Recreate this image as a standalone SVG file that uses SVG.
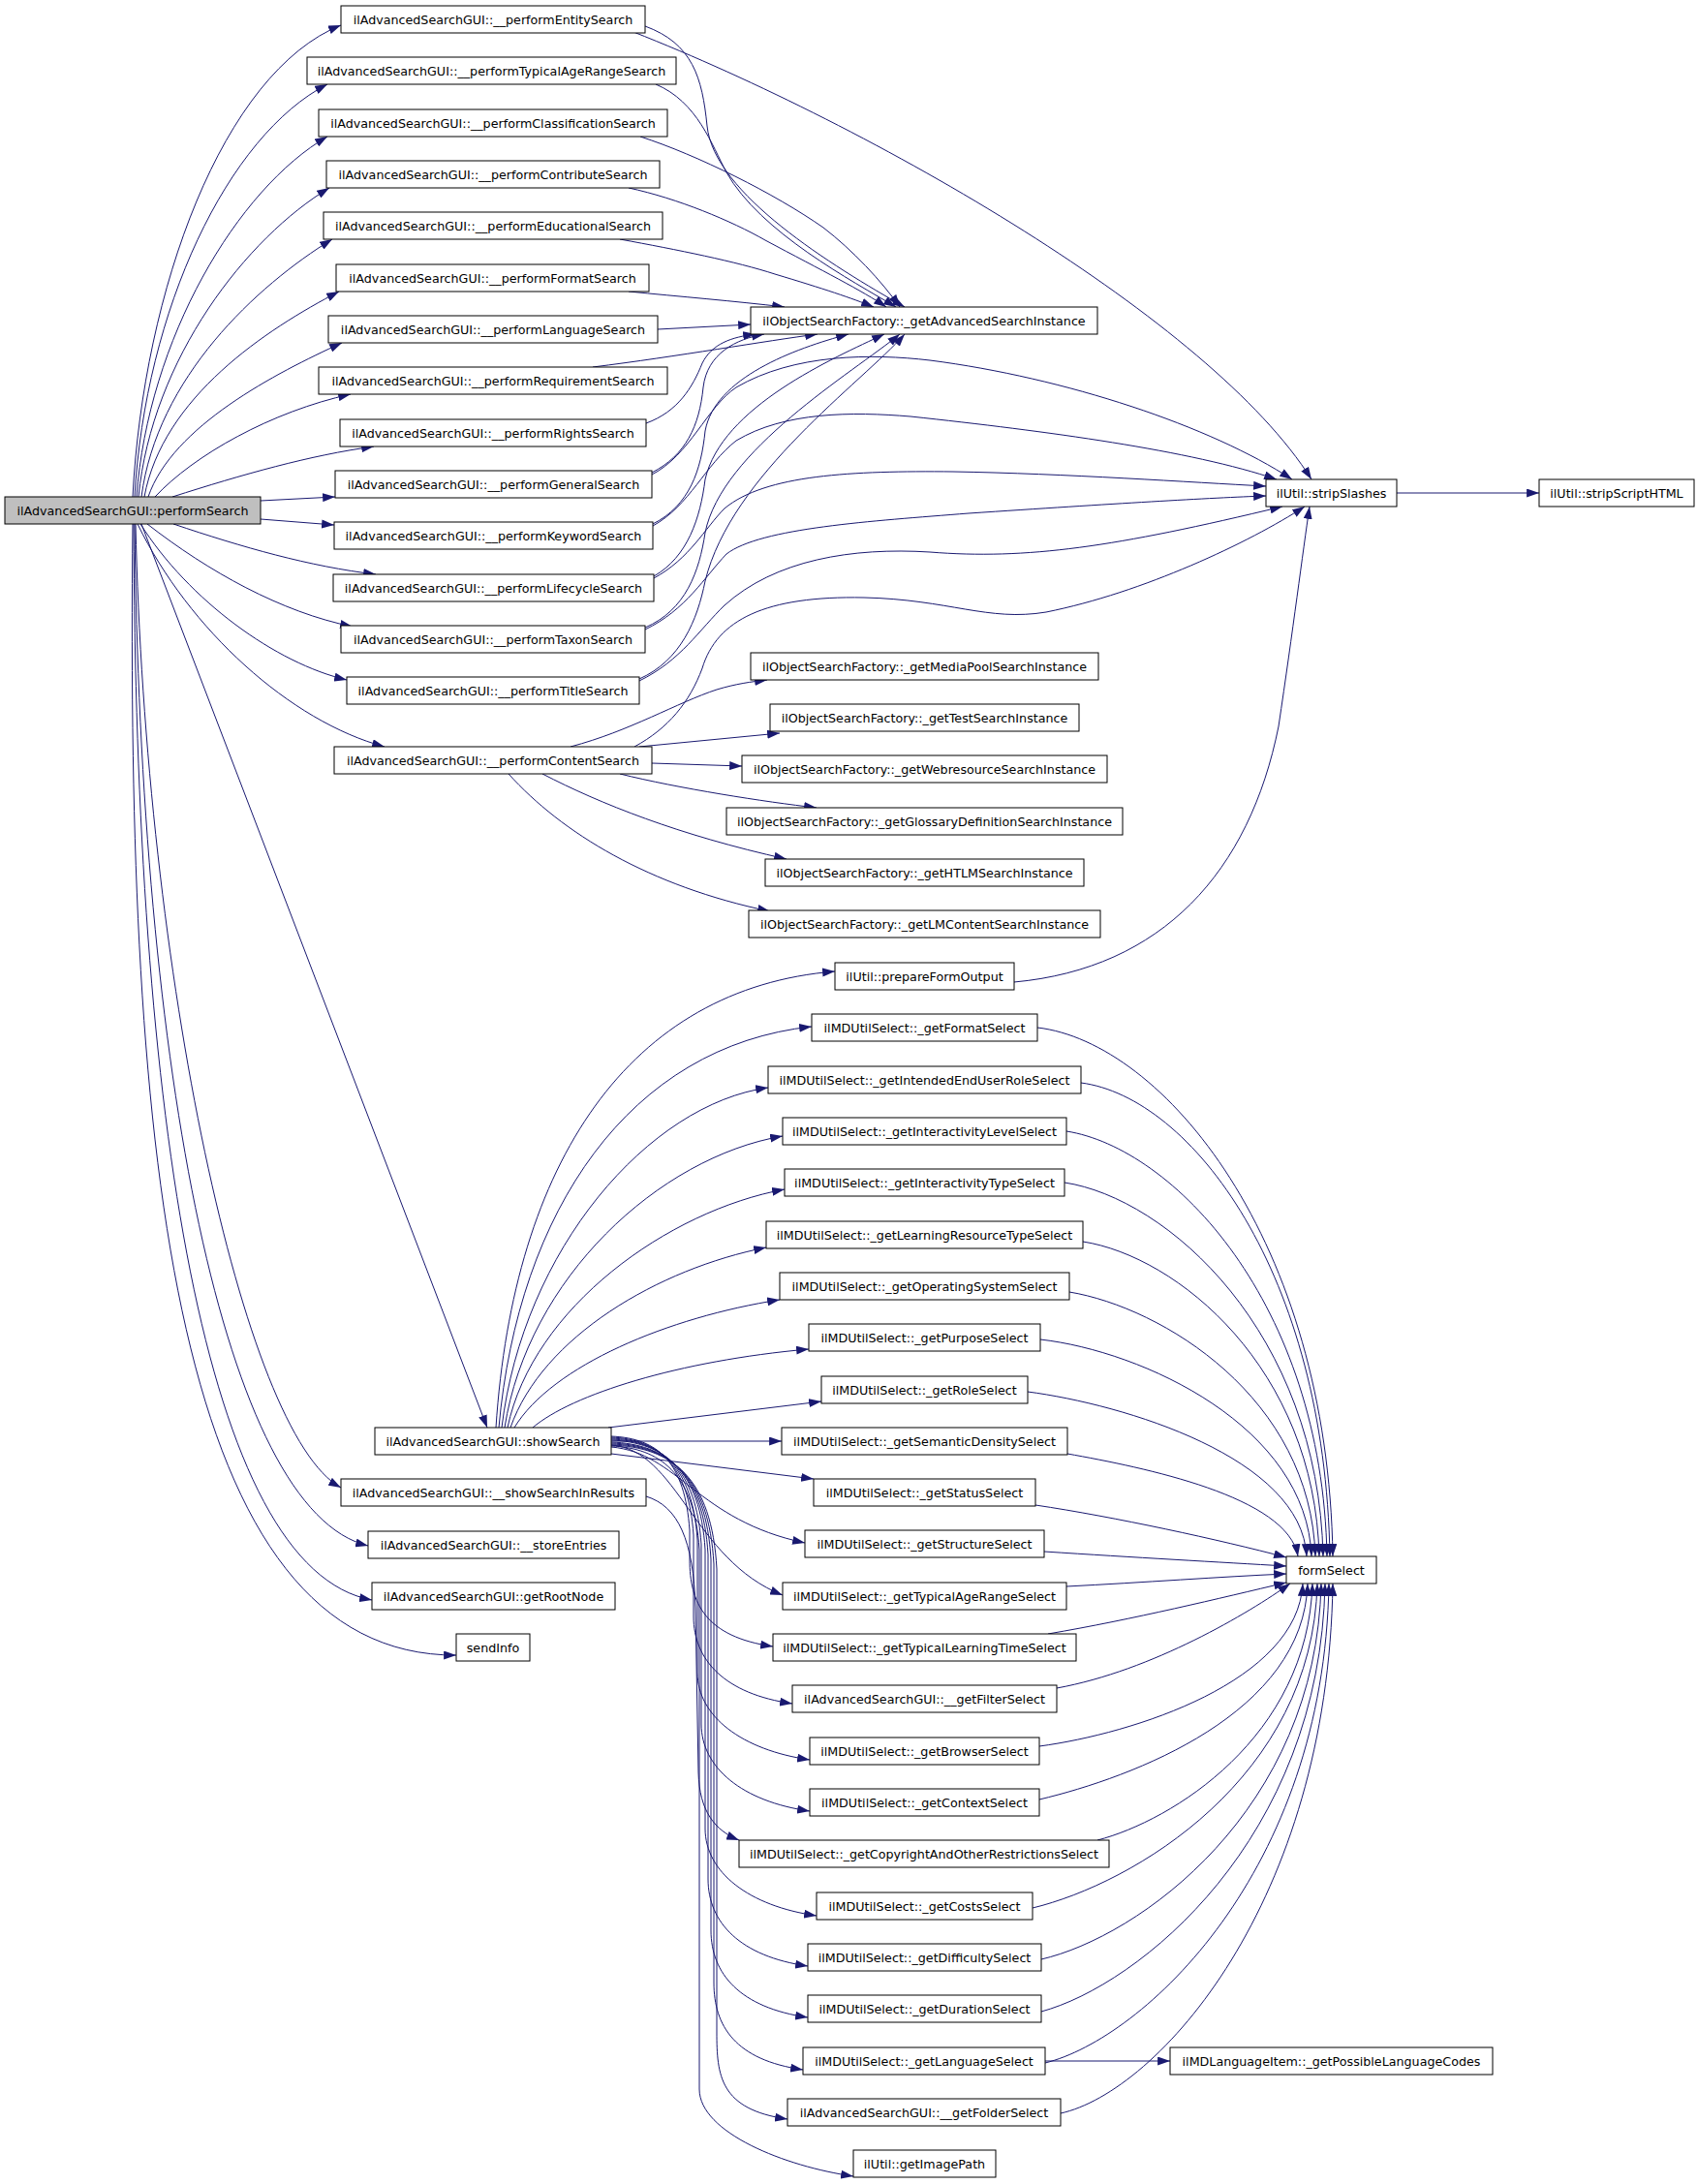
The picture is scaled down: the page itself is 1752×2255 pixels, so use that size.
<svg xmlns="http://www.w3.org/2000/svg" width="1752" height="2255" viewBox="0 0 1752 2255">
<defs>
<marker id="ah" viewBox="0 0 10 7" refX="10" refY="3.5" markerWidth="13" markerHeight="9" markerUnits="userSpaceOnUse" orient="auto"><path d="M0,0 L10,3.5 L0,7 z" fill="#191970"/></marker>
<style>
.n rect{fill:#fff;stroke:#000;stroke-width:1}
.n.root rect{fill:#bfbfbf}
.n text{font-family:'DejaVu Sans','Liberation Sans',sans-serif;font-size:12.7px;text-anchor:middle;fill:#000}
#edges path{fill:none;stroke:#191970;stroke-width:1;marker-end:url(#ah)}
</style>
</defs>
<rect width="1752" height="2255" fill="#fff"/>
<g id="edges">
<!-- performSearch fan -->
<path d="M137,513 C148,300 230,75 352,26"/>
<path d="M139,513 C150,320 235,140 338,87"/>
<path d="M141,513 C153,350 245,195 338,141"/>
<path d="M143,513 C157,370 255,245 340,194"/>
<path d="M146,513 C162,390 265,295 343,247"/>
<path d="M149,513 C168,410 275,340 350,301"/>
<path d="M153,513 C178,440 285,385 353,354"/>
<path d="M160,513 C200,470 280,425 362,407"/>
<path d="M178,513 C250,490 320,470 386,461"/>
<path d="M269,517 L346,513"/>
<path d="M269,536 L345,542"/>
<path d="M179,541 C250,565 320,585 388,593"/>
<path d="M152,541 C215,590 290,632 364,647"/>
<path d="M145,541 C195,620 285,685 358,702"/>
<path d="M142,541 C195,650 300,745 397,771"/>
<path d="M146,541 L503,1474"/>
<path d="M140,541 C150,1000 250,1480 352,1536"/>
<path d="M139,541 C145,1100 230,1560 380,1596"/>
<path d="M138,541 C140,1150 210,1620 384,1652"/>
<path d="M137,541 C130,1200 180,1710 471,1709"/>
<!-- to getAdvancedSearchInstance -->
<path d="M666,27 C715,45 725,80 730,130 C737,200 860,275 934,317"/>
<path d="M677,87 C720,105 735,150 750,178 C785,240 880,290 925,317"/>
<path d="M661,141 C720,160 800,200 850,235 C880,258 910,290 929,317"/>
<path d="M649,194 C700,205 755,228 790,248 C850,280 890,300 915,317"/>
<path d="M640,247 C700,258 760,270 800,283 C850,298 880,308 902,317"/>
<path d="M649,301 C700,306 760,311 810,317"/>
<path d="M679,340 L775,335"/>
<path d="M612,379 C700,368 790,352 844,345"/>
<path d="M667,437 C700,425 715,400 725,375 C735,355 755,348 780,345"/>
<path d="M673,488 C708,470 722,440 726,400 C730,365 760,350 789,345"/>
<path d="M674,541 C712,522 724,485 728,445 C738,390 820,360 876,345"/>
<path d="M675,595 C710,575 723,535 728,495 C745,420 860,370 913,345"/>
<path d="M666,648 C708,630 722,590 728,550 C745,465 880,385 929,345"/>
<path d="M660,701 C703,682 720,640 728,600 C755,490 890,395 934,345"/>
<!-- to stripSlashes -->
<path d="M654,33 C900,130 1250,330 1354,495"/>
<path d="M673,490 C712,470 730,420 760,400 C820,365 900,365 960,372 C1100,390 1250,440 1334,495"/>
<path d="M674,543 C712,522 728,480 760,455 C810,425 880,425 940,430 C1080,445 1230,465 1318,495"/>
<path d="M675,597 C712,577 728,545 748,525 C790,490 880,486 984,487 C1100,489 1230,498 1307,502"/>
<path d="M666,650 C708,630 728,595 750,572 C785,545 900,538 1000,530 C1150,520 1250,514 1307,512"/>
<path d="M660,703 C703,682 722,650 748,625 C800,578 880,565 960,570 C1060,578 1150,565 1324,523"/>
<path d="M655,771 C690,752 712,725 725,690 C740,640 790,615 892,617 C980,619 1020,642 1080,632 C1180,612 1290,560 1347,523"/>
<path d="M1047,1014 C1200,1000 1290,900 1320,750 C1335,650 1345,570 1352,523"/>
<path d="M1442,509 L1589,509"/>
<!-- content search -->
<path d="M589,771 C650,755 700,725 740,712 C760,706 775,704 792,702"/>
<path d="M660,771 L805,757"/>
<path d="M673,788 L766,791"/>
<path d="M640,799 C700,814 790,828 843,834"/>
<path d="M560,799 C620,830 700,862 812,887"/>
<path d="M525,799 C580,860 670,915 795,941"/>
<!-- showSearch upper -->
<path d="M512,1474 C530,1200 650,1020 862,1003"/>
<path d="M515,1474 C535,1250 650,1080 838,1060"/>
<path d="M518,1474 C540,1290 670,1140 793,1123"/>
<path d="M521,1474 C545,1320 680,1195 808,1173"/>
<path d="M524,1474 C550,1350 690,1250 810,1228"/>
<path d="M527,1474 C560,1380 680,1310 791,1288"/>
<path d="M531,1474 C570,1410 690,1360 805,1342"/>
<path d="M550,1474 C590,1440 700,1405 835,1393"/>
<path d="M628,1474 L848,1447"/>
<path d="M631,1488 L807,1488"/>
<path d="M631,1501 L840,1527"/>
<!-- showSearch lower -->
<path d="M631,1494 C700,1500 720,1570 831,1593"/>
<path d="M631,1492 C700,1497 715,1610 808,1647"/>
<path d="M631,1483 C680,1485 707,1510 712,1580 L712,1610 C712,1655 728,1690 798,1700"/>
<path d="M631,1484 C680,1486 711,1512 716,1585 L716,1669 C716,1714 748,1749 818,1759"/>
<path d="M631,1485 C682,1487 715,1514 720,1590 L720,1727 C720,1772 766,1807 836,1817"/>
<path d="M631,1486 C684,1488 719,1516 724,1595 L724,1780 C724,1825 766,1860 836,1870"/>
<path d="M631,1487 C686,1489 723,1518 728,1600 L728,1888 C728,1933 773,1968 843,1978"/>
<path d="M631,1489 C688,1491 726,1520 731,1605 L731,1940 C731,1985 764,2020 834,2030"/>
<path d="M631,1490 C690,1492 729,1522 734,1610 L734,1993 C734,2038 764,2073 834,2083"/>
<path d="M631,1491 C692,1493 732,1524 737,1615 L737,2047 C737,2092 759,2127 829,2137"/>
<path d="M631,1492 C694,1494 735,1526 740,1620 L740,2098 C740,2143 743,2178 813,2188"/>
<path d="M631,1493 C680,1495 717,1520 722,1600 L722,2157 C722,2202 811,2237 881,2247"/>
<path d="M667,1545 C700,1555 716,1590 718,1660 L721,1830 C722,1870 738,1890 763,1900"/>
<!-- to formSelect -->
<path d="M1071,1061 C1200,1076 1371,1279 1376,1607"/>
<path d="M1116,1118 C1230,1133 1368,1314 1373,1607"/>
<path d="M1101,1168 C1210,1185 1365,1344 1370,1607"/>
<path d="M1099,1221 C1205,1237 1361,1375 1366,1607"/>
<path d="M1118,1282 C1215,1297 1357,1412 1362,1607"/>
<path d="M1104,1334 C1200,1350 1353,1443 1358,1607"/>
<path d="M1074,1383 C1180,1395 1349,1473 1354,1607"/>
<path d="M1061,1437 C1160,1450 1344,1505 1349,1607"/>
<path d="M1102,1501 C1180,1515 1330,1545 1340,1607"/>
<path d="M1069,1554 C1150,1566 1260,1590 1328,1608"/>
<path d="M1078,1602 C1170,1608 1260,1613 1328,1617"/>
<path d="M1101,1638 C1180,1634 1260,1628 1328,1625"/>
<path d="M1082,1687 C1170,1672 1260,1650 1328,1634"/>
<path d="M1091,1743 C1190,1725 1290,1665 1332,1635"/>
<path d="M1073,1803 C1170,1790 1340,1736 1345,1635"/>
<path d="M1073,1858 C1170,1835 1346,1769 1350,1635"/>
<path d="M1133,1900 C1210,1880 1350,1794 1355,1635"/>
<path d="M1066,1970 C1170,1945 1355,1836 1360,1635"/>
<path d="M1075,2023 C1175,2000 1359,1870 1364,1635"/>
<path d="M1075,2077 C1175,2050 1363,1900 1368,1635"/>
<path d="M1079,2130 C1180,2105 1367,1933 1372,1635"/>
<path d="M1095,2182 C1195,2160 1371,1965 1376,1635"/>
<path d="M1079,2128 L1208,2128"/>
</g>
<g id="n0" class="n root"><rect x="5" y="513" width="264" height="28"/><text x="137" y="531.5">ilAdvancedSearchGUI::performSearch</text></g>
<g id="n1" class="n"><rect x="352" y="6" width="314" height="28"/><text x="509" y="24.5">ilAdvancedSearchGUI::__performEntitySearch</text></g>
<g id="n2" class="n"><rect x="317" y="59" width="381" height="28"/><text x="507.5" y="77.5">ilAdvancedSearchGUI::__performTypicalAgeRangeSearch</text></g>
<g id="n3" class="n"><rect x="329" y="113" width="360" height="28"/><text x="509" y="131.5">ilAdvancedSearchGUI::__performClassificationSearch</text></g>
<g id="n4" class="n"><rect x="337" y="166" width="344" height="28"/><text x="509" y="184.5">ilAdvancedSearchGUI::__performContributeSearch</text></g>
<g id="n5" class="n"><rect x="334" y="219" width="350" height="28"/><text x="509" y="237.5">ilAdvancedSearchGUI::__performEducationalSearch</text></g>
<g id="n6" class="n"><rect x="347" y="273" width="323" height="28"/><text x="508.5" y="291.5">ilAdvancedSearchGUI::__performFormatSearch</text></g>
<g id="n7" class="n"><rect x="339" y="326" width="340" height="28"/><text x="509" y="344.5">ilAdvancedSearchGUI::__performLanguageSearch</text></g>
<g id="n8" class="n"><rect x="329" y="379" width="360" height="28"/><text x="509" y="397.5">ilAdvancedSearchGUI::__performRequirementSearch</text></g>
<g id="n9" class="n"><rect x="351" y="433" width="316" height="28"/><text x="509" y="451.5">ilAdvancedSearchGUI::__performRightsSearch</text></g>
<g id="n10" class="n"><rect x="346" y="486" width="327" height="28"/><text x="509.5" y="504.5">ilAdvancedSearchGUI::__performGeneralSearch</text></g>
<g id="n11" class="n"><rect x="345" y="539" width="329" height="28"/><text x="509.5" y="557.5">ilAdvancedSearchGUI::__performKeywordSearch</text></g>
<g id="n12" class="n"><rect x="344" y="593" width="331" height="28"/><text x="509.5" y="611.5">ilAdvancedSearchGUI::__performLifecycleSearch</text></g>
<g id="n13" class="n"><rect x="352" y="646" width="314" height="28"/><text x="509" y="664.5">ilAdvancedSearchGUI::__performTaxonSearch</text></g>
<g id="n14" class="n"><rect x="358" y="699" width="302" height="28"/><text x="509" y="717.5">ilAdvancedSearchGUI::__performTitleSearch</text></g>
<g id="n15" class="n"><rect x="345" y="771" width="328" height="28"/><text x="509" y="789.5">ilAdvancedSearchGUI::__performContentSearch</text></g>
<g id="n16" class="n"><rect x="387" y="1474" width="244" height="28"/><text x="509" y="1492.5">ilAdvancedSearchGUI::showSearch</text></g>
<g id="n17" class="n"><rect x="352" y="1527" width="315" height="28"/><text x="509.5" y="1545.5">ilAdvancedSearchGUI::__showSearchInResults</text></g>
<g id="n18" class="n"><rect x="380" y="1581" width="259" height="28"/><text x="509.5" y="1599.5">ilAdvancedSearchGUI::__storeEntries</text></g>
<g id="n19" class="n"><rect x="384" y="1634" width="251" height="28"/><text x="509.5" y="1652.5">ilAdvancedSearchGUI::getRootNode</text></g>
<g id="n20" class="n"><rect x="471" y="1687" width="76" height="28"/><text x="509" y="1705.5">sendInfo</text></g>
<g id="n21" class="n"><rect x="775" y="317" width="358" height="28"/><text x="954" y="335.5">ilObjectSearchFactory::_getAdvancedSearchInstance</text></g>
<g id="n22" class="n"><rect x="1307" y="495" width="135" height="28"/><text x="1374.5" y="513.5">ilUtil::stripSlashes</text></g>
<g id="n23" class="n"><rect x="1589" y="495" width="160" height="28"/><text x="1669" y="513.5">ilUtil::stripScriptHTML</text></g>
<g id="n24" class="n"><rect x="775" y="674" width="359" height="28"/><text x="954.5" y="692.5">ilObjectSearchFactory::_getMediaPoolSearchInstance</text></g>
<g id="n25" class="n"><rect x="795" y="727" width="319" height="28"/><text x="954.5" y="745.5">ilObjectSearchFactory::_getTestSearchInstance</text></g>
<g id="n26" class="n"><rect x="766" y="780" width="377" height="28"/><text x="954.5" y="798.5">ilObjectSearchFactory::_getWebresourceSearchInstance</text></g>
<g id="n27" class="n"><rect x="750" y="834" width="409" height="28"/><text x="954.5" y="852.5">ilObjectSearchFactory::_getGlossaryDefinitionSearchInstance</text></g>
<g id="n28" class="n"><rect x="790" y="887" width="329" height="28"/><text x="954.5" y="905.5">ilObjectSearchFactory::_getHTLMSearchInstance</text></g>
<g id="n29" class="n"><rect x="773" y="940" width="363" height="28"/><text x="954.5" y="958.5">ilObjectSearchFactory::_getLMContentSearchInstance</text></g>
<g id="n30" class="n"><rect x="862" y="994" width="185" height="28"/><text x="954.5" y="1012.5">ilUtil::prepareFormOutput</text></g>
<g id="n31" class="n"><rect x="838" y="1047" width="233" height="28"/><text x="954.5" y="1065.5">ilMDUtilSelect::_getFormatSelect</text></g>
<g id="n32" class="n"><rect x="793" y="1101" width="323" height="28"/><text x="954.5" y="1119.5">ilMDUtilSelect::_getIntendedEndUserRoleSelect</text></g>
<g id="n33" class="n"><rect x="808" y="1154" width="293" height="28"/><text x="954.5" y="1172.5">ilMDUtilSelect::_getInteractivityLevelSelect</text></g>
<g id="n34" class="n"><rect x="810" y="1207" width="289" height="28"/><text x="954.5" y="1225.5">ilMDUtilSelect::_getInteractivityTypeSelect</text></g>
<g id="n35" class="n"><rect x="791" y="1261" width="327" height="28"/><text x="954.5" y="1279.5">ilMDUtilSelect::_getLearningResourceTypeSelect</text></g>
<g id="n36" class="n"><rect x="805" y="1314" width="299" height="28"/><text x="954.5" y="1332.5">ilMDUtilSelect::_getOperatingSystemSelect</text></g>
<g id="n37" class="n"><rect x="835" y="1367" width="239" height="28"/><text x="954.5" y="1385.5">ilMDUtilSelect::_getPurposeSelect</text></g>
<g id="n38" class="n"><rect x="848" y="1421" width="213" height="28"/><text x="954.5" y="1439.5">ilMDUtilSelect::_getRoleSelect</text></g>
<g id="n39" class="n"><rect x="807" y="1474" width="295" height="28"/><text x="954.5" y="1492.5">ilMDUtilSelect::_getSemanticDensitySelect</text></g>
<g id="n40" class="n"><rect x="840" y="1527" width="229" height="28"/><text x="954.5" y="1545.5">ilMDUtilSelect::_getStatusSelect</text></g>
<g id="n41" class="n"><rect x="831" y="1580" width="247" height="28"/><text x="954.5" y="1598.5">ilMDUtilSelect::_getStructureSelect</text></g>
<g id="n42" class="n"><rect x="808" y="1634" width="293" height="28"/><text x="954.5" y="1652.5">ilMDUtilSelect::_getTypicalAgeRangeSelect</text></g>
<g id="n43" class="n"><rect x="798" y="1687" width="313" height="28"/><text x="954.5" y="1705.5">ilMDUtilSelect::_getTypicalLearningTimeSelect</text></g>
<g id="n44" class="n"><rect x="818" y="1740" width="273" height="28"/><text x="954.5" y="1758.5">ilAdvancedSearchGUI::__getFilterSelect</text></g>
<g id="n45" class="n"><rect x="836" y="1794" width="237" height="28"/><text x="954.5" y="1812.5">ilMDUtilSelect::_getBrowserSelect</text></g>
<g id="n46" class="n"><rect x="836" y="1847" width="237" height="28"/><text x="954.5" y="1865.5">ilMDUtilSelect::_getContextSelect</text></g>
<g id="n47" class="n"><rect x="763" y="1900" width="382" height="28"/><text x="954" y="1918.5">ilMDUtilSelect::_getCopyrightAndOtherRestrictionsSelect</text></g>
<g id="n48" class="n"><rect x="843" y="1954" width="223" height="28"/><text x="954.5" y="1972.5">ilMDUtilSelect::_getCostsSelect</text></g>
<g id="n49" class="n"><rect x="834" y="2007" width="241" height="28"/><text x="954.5" y="2025.5">ilMDUtilSelect::_getDifficultySelect</text></g>
<g id="n50" class="n"><rect x="834" y="2060" width="241" height="28"/><text x="954.5" y="2078.5">ilMDUtilSelect::_getDurationSelect</text></g>
<g id="n51" class="n"><rect x="829" y="2114" width="250" height="28"/><text x="954" y="2132.5">ilMDUtilSelect::_getLanguageSelect</text></g>
<g id="n52" class="n"><rect x="813" y="2167" width="282" height="28"/><text x="954" y="2185.5">ilAdvancedSearchGUI::__getFolderSelect</text></g>
<g id="n53" class="n"><rect x="881" y="2220" width="147" height="28"/><text x="954.5" y="2238.5">ilUtil::getImagePath</text></g>
<g id="n54" class="n"><rect x="1328" y="1607" width="93" height="28"/><text x="1374.5" y="1625.5">formSelect</text></g>
<g id="n55" class="n"><rect x="1208" y="2114" width="333" height="28"/><text x="1374.5" y="2132.5">ilMDLanguageItem::_getPossibleLanguageCodes</text></g>
</svg>
